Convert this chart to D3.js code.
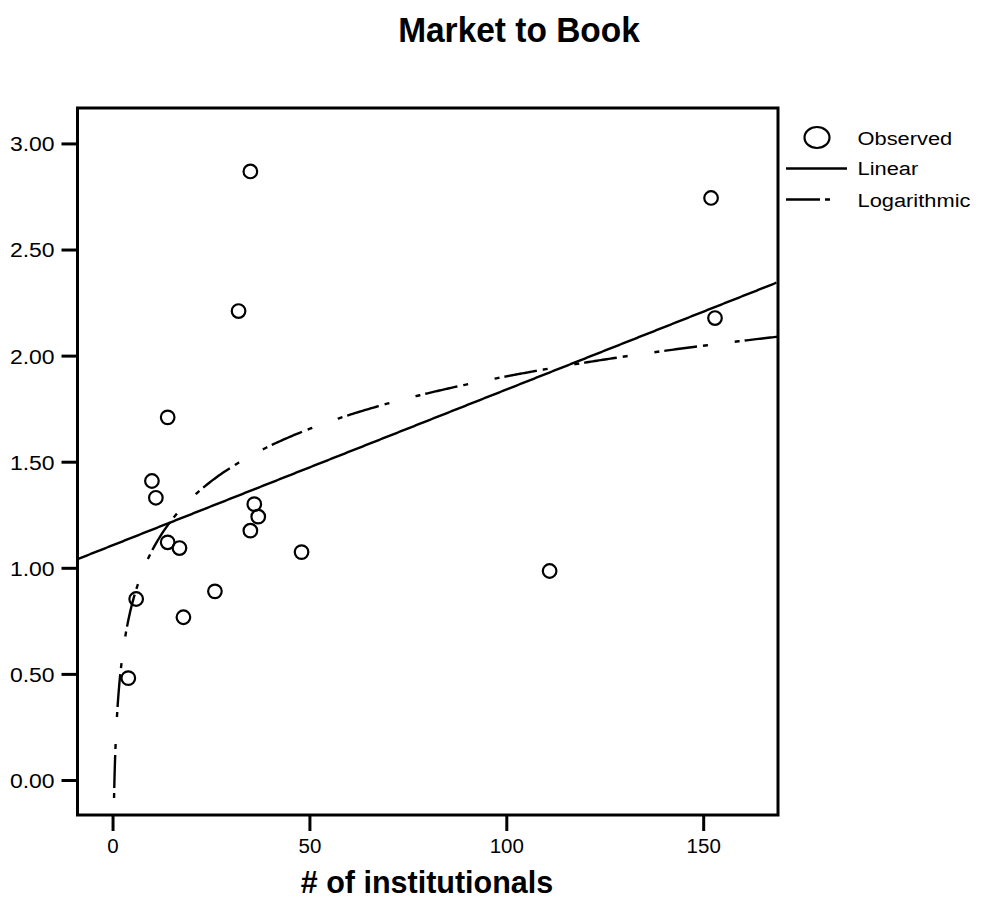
<!DOCTYPE html>
<html><head><meta charset="utf-8">
<script src="https://cdn.jsdelivr.net/npm/d3@7/dist/d3.min.js"></script>
<style>body{margin:0;background:#fff}svg{display:block}text{font-family:"Liberation Sans",Arial,sans-serif}</style>
</head><body><svg id="c" width="983" height="903"></svg>
<script>
const institutionals = [4, 6, 10, 11, 14, 14, 17, 18, 26, 32, 35, 35, 36, 37, 48, 111, 152, 153];
const marketToBook  = [0.48, 0.853, 1.409, 1.33, 1.709, 1.12, 1.093, 0.767, 0.889, 2.21, 2.868, 1.175, 1.30, 1.241, 1.074, 0.985, 2.743, 2.177];
const linearFit = {intercept: 1.106, slope: 0.00734};
const logFit = {a: 0.258, b: 0.357};
const xTicks = [0, 50, 100, 150];
const yTicks = [0, 0.5, 1, 1.5, 2, 2.5, 3];
const legendLabels = ["Observed", "Linear", "Logarithmic"];

const svg = d3.select("#c");
const L = 77.5, R = 778, T = 108, B = 815;
const x = d3.scaleLinear().domain([-8.9, 169]).range([L, R]);
const y = d3.scaleLinear().domain([-0.165, 3.167]).range([B, T]);

svg.append("defs").append("clipPath").attr("id","clip")
  .append("rect").attr("x",L).attr("y",T).attr("width",R-L).attr("height",B-T);

// title
svg.append("text").attr("transform","translate(519,42) scale(0.93,1)")
  .attr("text-anchor","middle").attr("font-weight","bold").attr("font-size",36)
  .text("Market to Book");

// axes
const xAxis = d3.axisBottom(x).tickValues(xTicks).tickSize(16).tickPadding(7).tickFormat(d3.format("d"));
const gx = svg.append("g").attr("transform",`translate(0,${B})`).call(xAxis);
const yAxis = d3.axisLeft(y).tickValues(yTicks).tickSize(16).tickPadding(7).tickFormat(d3.format(".2f"));
const gy = svg.append("g").attr("transform",`translate(${L},0)`).call(yAxis);
[gx, gy].forEach(g => {
  g.select(".domain").remove();
  g.selectAll(".tick line").attr("stroke","#000").attr("stroke-width",3);
  g.selectAll(".tick text").attr("font-size",20.5).attr("fill","#000")
    .style("font-family","'Liberation Sans',Arial,sans-serif");
});
gy.selectAll(".tick text").attr("dy","0.36em").attr("x",-20.5).attr("transform","scale(1.12,1)");

// frame
svg.append("rect").attr("x",L).attr("y",T).attr("width",R-L).attr("height",B-T)
  .attr("fill","none").attr("stroke","#000").attr("stroke-width",3);

const plot = svg.append("g").attr("clip-path","url(#clip)");

// linear fit
const xs = d3.range(-8.9, 169.01, 0.5);
plot.append("path").datum(xs)
  .attr("d", d3.line().x(d=>x(d)).y(d=>y(linearFit.intercept + linearFit.slope*d)))
  .attr("fill","none").attr("stroke","#000").attr("stroke-width",2.4);

// log fit
const xl = d3.range(0.15, 2, 0.02).concat(d3.range(2, 169.5, 0.5));
plot.append("path").datum(xl)
  .attr("d", d3.line().x(d=>x(d)).y(d=>y(logFit.a + logFit.b*Math.log(d))))
  .attr("fill","none").attr("stroke","#000").attr("stroke-width",2.4)
  .attr("stroke-dasharray","33,6,5,27,5,5");

// points
plot.selectAll("circle.pt").data(institutionals.map((v,i)=>[v, marketToBook[i]]))
  .join("circle").attr("class","pt")
  .attr("cx", d=>x(d[0])).attr("cy", d=>y(d[1])).attr("r",6.8)
  .attr("fill","none").attr("stroke","#000").attr("stroke-width",2.2);

// x label
svg.append("text").attr("x",427).attr("y",893).attr("text-anchor","middle")
  .attr("font-weight","bold").attr("font-size",30.5).text("# of institutionals");

// legend
const lg = svg.append("g");
lg.append("ellipse").attr("cx",817).attr("cy",137.5).attr("rx",12.5).attr("ry",10.5)
  .attr("fill","none").attr("stroke","#000").attr("stroke-width",2.2);
lg.append("line").attr("x1",786).attr("x2",847).attr("y1",168.5).attr("y2",168.5)
  .attr("stroke","#000").attr("stroke-width",2.4);
lg.append("line").attr("x1",786).attr("x2",847).attr("y1",199.5).attr("y2",199.5)
  .attr("stroke","#000").attr("stroke-width",2.4).attr("stroke-dasharray","34,5,5,40");
const ly = [145, 175, 206.5];
legendLabels.forEach((t,i)=>{
  lg.append("text").attr("transform",`translate(857.5,${ly[i]}) scale(1.15,1)`)
    .attr("font-size",19).text(t);
});
</script></body></html>
